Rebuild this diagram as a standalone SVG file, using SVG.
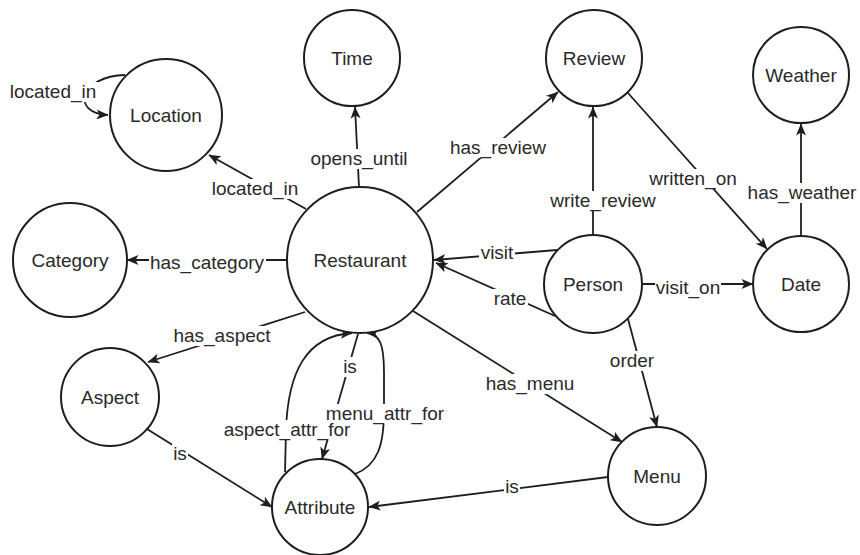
<svg xmlns="http://www.w3.org/2000/svg" width="860" height="555" viewBox="0 0 860 555">
<style>
.node circle{fill:#fff;stroke:#1e1e1e;stroke-width:2}
.node text{font-family:"Liberation Sans",Arial,sans-serif;font-size:19px;fill:#2a2a2a;text-anchor:middle}
.edge{fill:none;stroke:#1e1e1e;stroke-width:1.8}
.arr{marker-end:url(#ah)}
.lbl text{font-family:"Liberation Sans",Arial,sans-serif;font-size:19px;fill:#2a2a2a;text-anchor:middle}
.lbl rect{fill:#fff;stroke:none}
</style>
<defs>
<marker id="ah" viewBox="0 0 12 10" refX="11.5" refY="5" markerWidth="13" markerHeight="10" orient="auto" markerUnits="userSpaceOnUse">
<path d="M0,0 L12,5 L0,10 L3,5 z" fill="#1e1e1e"/>
</marker>
</defs>
<rect width="860" height="555" fill="#fff"/>
<g id="connectors">
<path class="edge arr" d="M125,75 C80,76 70,113 108,115"/>
<path class="edge arr" d="M306,209 L209,155"/>
<path class="edge arr" d="M359,187 L355,107"/>
<path class="edge arr" d="M417,212 L558,92"/>
<path class="edge arr" d="M287,260 L127,260"/>
<path class="edge arr" d="M305,312 L148,362"/>
<path class="edge arr" d="M557,250 L434,260"/>
<path class="edge arr" d="M555,316 L436,263"/>
<path class="edge arr" d="M413,311 L622,442"/>
<path class="edge arr" d="M593,235 L593,107"/>
<path class="edge arr" d="M628,93 L767,249"/>
<path class="edge arr" d="M801,236 L801,124"/>
<path class="edge arr" d="M642,284 L753,284"/>
<path class="edge arr" d="M628,319 L657,427"/>
<path class="edge arr" d="M608,477 L369,507"/>
<path class="edge arr" d="M147,429 L272,507"/>
<path class="edge arr" d="M358,334 L322,459"/>
<path class="edge arr" d="M285,472 L286,430 C288,372 306,336 352,333"/>
<path class="edge arr" d="M355,474 C378,465 384,445 384,410 L384,372 C384,345 380,334 367,333"/>
<g class="lbl"><rect x="8" y="82" width="90" height="20"/><text x="53" y="91" dy="0.35em">located_in</text></g>
<g class="lbl"><rect x="210" y="179" width="90" height="20"/><text x="255" y="188" dy="0.35em">located_in</text></g>
<g class="lbl"><rect x="311" y="149" width="96" height="20"/><text x="359" y="158" dy="0.35em">opens_until</text></g>
<g class="lbl"><rect x="449" y="138" width="99" height="20"/><text x="498" y="147" dy="0.35em">has_review</text></g>
<g class="lbl"><rect x="149" y="253" width="117" height="20"/><text x="207" y="262" dy="0.35em">has_category</text></g>
<g class="lbl"><rect x="172" y="326" width="100" height="20"/><text x="222" y="335" dy="0.35em">has_aspect</text></g>
<g class="lbl"><rect x="479" y="243" width="36" height="20"/><text x="497" y="252" dy="0.35em">visit</text></g>
<g class="lbl"><rect x="492" y="289" width="36" height="20"/><text x="510" y="298" dy="0.35em">rate</text></g>
<g class="lbl"><rect x="484" y="374" width="92" height="20"/><text x="530" y="383" dy="0.35em">has_menu</text></g>
<g class="lbl"><rect x="548" y="191" width="110" height="20"/><text x="603" y="200" dy="0.35em">write_review</text></g>
<g class="lbl"><rect x="647" y="169" width="92" height="20"/><text x="693" y="178" dy="0.35em">written_on</text></g>
<g class="lbl"><rect x="746" y="183" width="112" height="20"/><text x="802" y="192" dy="0.35em">has_weather</text></g>
<g class="lbl"><rect x="655" y="278" width="66" height="20"/><text x="688" y="287" dy="0.35em">visit_on</text></g>
<g class="lbl"><rect x="608" y="351" width="48" height="20"/><text x="632" y="360" dy="0.35em">order</text></g>
<g class="lbl"><rect x="504" y="477" width="16" height="20"/><text x="512" y="486" dy="0.35em">is</text></g>
<g class="lbl"><rect x="172" y="444" width="16" height="20"/><text x="180" y="453" dy="0.35em">is</text></g>
<g class="lbl"><rect x="342" y="357" width="16" height="20"/><text x="350" y="366" dy="0.35em">is</text></g>
<g class="lbl"><rect x="325" y="404" width="121" height="20"/><text x="385" y="413" dy="0.35em">menu_attr_for</text></g>
<g class="lbl"><rect x="222" y="420" width="130" height="20"/><text x="287" y="429" dy="0.35em">aspect_attr_for</text></g>
</g>
<g id="node-location" class="node"><circle cx="166" cy="115" r="56"/><text x="166" y="115" dy="0.35em">Location</text></g>
<g id="node-time" class="node"><circle cx="352" cy="58" r="48"/><text x="352" y="58" dy="0.35em">Time</text></g>
<g id="node-review" class="node"><circle cx="594" cy="58" r="48"/><text x="594" y="58" dy="0.35em">Review</text></g>
<g id="node-weather" class="node"><circle cx="801" cy="75" r="48"/><text x="801" y="75" dy="0.35em">Weather</text></g>
<g id="node-category" class="node"><circle cx="70" cy="260" r="57"/><text x="70" y="260" dy="0.35em">Category</text></g>
<g id="node-restaurant" class="node"><circle cx="360" cy="260" r="73"/><text x="360" y="260" dy="0.35em">Restaurant</text></g>
<g id="node-person" class="node"><circle cx="593" cy="284" r="49"/><text x="593" y="284" dy="0.35em">Person</text></g>
<g id="node-date" class="node"><circle cx="801" cy="284" r="48"/><text x="801" y="284" dy="0.35em">Date</text></g>
<g id="node-aspect" class="node"><circle cx="110" cy="397" r="49"/><text x="110" y="397" dy="0.35em">Aspect</text></g>
<g id="node-attribute" class="node"><circle cx="320" cy="507" r="48"/><text x="320" y="507" dy="0.35em">Attribute</text></g>
<g id="node-menu" class="node"><circle cx="657" cy="476" r="49"/><text x="657" y="476" dy="0.35em">Menu</text></g>
</svg>
